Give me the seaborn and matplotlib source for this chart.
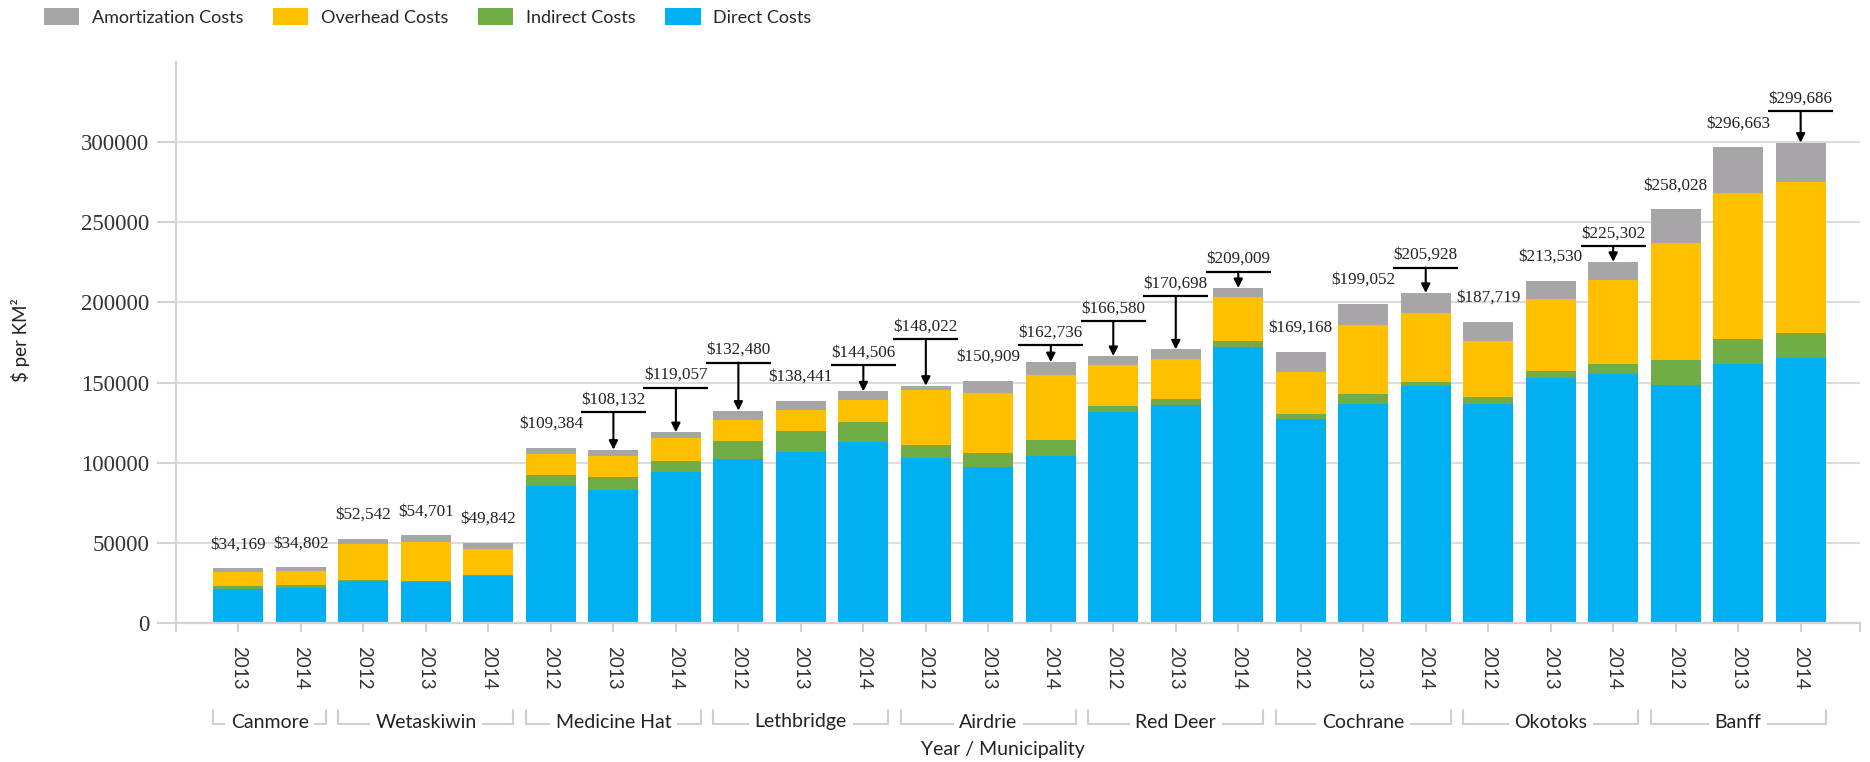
import matplotlib
matplotlib.use("Agg")
import matplotlib.pyplot as plt
import seaborn as sns
import pandas as pd
from matplotlib.patches import Patch

# ---------------- data ----------------
municipality = ["Canmore", "Canmore",
                "Wetaskiwin", "Wetaskiwin", "Wetaskiwin",
                "Medicine Hat", "Medicine Hat", "Medicine Hat",
                "Lethbridge", "Lethbridge", "Lethbridge",
                "Airdrie", "Airdrie", "Airdrie",
                "Red Deer", "Red Deer", "Red Deer",
                "Cochrane", "Cochrane", "Cochrane",
                "Okotoks", "Okotoks", "Okotoks",
                "Banff", "Banff", "Banff"]
year = ["2013", "2014"] + ["2012", "2013", "2014"] * 8

direct = [21300, 21700, 26500, 25800, 29500, 85200, 83100, 94000, 102300, 106700,
          112700, 102900, 97300, 104400, 131400, 135800, 172100, 127500, 136500, 148000,
          136500, 153100, 155300, 148700, 161300, 165300]
indirect = [2000, 2000, 500, 500, 500, 7300, 7900, 7300, 11400, 13300,
            12900, 7900, 8700, 10000, 3800, 4200, 4100, 2900, 6600, 2200,
            4400, 4400, 6000, 15300, 16000, 15500]
overhead = [8400, 8600, 22300, 24500, 16000, 13100, 13400, 14100, 13200, 12700,
            13400, 34400, 37500, 40600, 26000, 25000, 27300, 26000, 43100, 43100,
            35300, 44900, 52800, 72800, 91200, 94100]
amortization = [2469, 2502, 3242, 3901, 3842, 3784, 3732, 3657, 5580, 5741,
                5506, 2822, 7409, 7736, 5380, 5698, 5509, 12768, 12852, 12628,
                11519, 11130, 11202, 21228, 28163, 24786]
total_label = [34169, 34802, 52542, 54701, 49842, 109384, 108132, 119057, 132480, 138441,
               144506, 148022, 150909, 162736, 166580, 170698, 209009, 169168, 199052, 205928,
               187719, 213530, 225302, 258028, 296663, 299686]

series_names = ["Amortization Costs", "Overhead Costs", "Indirect Costs", "Direct Costs"]
y_ticks = [0, 50000, 100000, 150000, 200000, 250000, 300000]

# annotation layout: 0 -> plain label, otherwise height of callout bar above the total
callout_gap = [0, 0, 0, 0, 0, 0, 23300, 27700, 30000, 0,
               16300, 28900, 0, 10600, 21700, 33200, 10200, 0, 0, 15800,
               0, 0, 9900, 0, 0, 19600]

colors = {"Direct Costs": "#00B0F0", "Indirect Costs": "#70AD47",
          "Overhead Costs": "#FFC000", "Amortization Costs": "#A7A5A7"}

# ---------------- frame ----------------
keys = [f"{m} {y}" for m, y in zip(municipality, year)]
df = pd.DataFrame({"key": keys, "direct": direct, "indirect": indirect,
                   "overhead": overhead, "amort": amortization})
df["c_direct"] = df["direct"]
df["c_indirect"] = df["c_direct"] + df["indirect"]
df["c_overhead"] = df["c_indirect"] + df["overhead"]
df["c_amort"] = df["c_overhead"] + df["amort"]

sns.set_style("white")
plt.rcParams["font.family"] = ["Lato", "DejaVu Sans"]

W, H = 1870, 762
fig = plt.figure(figsize=(W / 100, H / 100), dpi=100)
ax = fig.add_axes([176 / W, 1 - 623 / H, (1860 - 176) / W, (623 - 62) / H])

layers = [("c_amort", "Amortization Costs"), ("c_overhead", "Overhead Costs"),
          ("c_indirect", "Indirect Costs"), ("c_direct", "Direct Costs")]
for col, name in layers:
    sns.barplot(data=df, x="key", y=col, order=keys, color=colors[name],
                saturation=1, width=0.8, linewidth=0, errorbar=None, ax=ax, zorder=2)

ax.set_xlim(-1.0, 25.95)
ax.set_ylim(0, 350000)

# grid & spines
ax.set_axisbelow(True)
ax.yaxis.grid(True, color="#DCDCDC", lw=1.5, zorder=0)
ax.xaxis.grid(False)
for s in ["top", "right"]:
    ax.spines[s].set_visible(False)
for s in ["left", "bottom"]:
    ax.spines[s].set_color("#D3D3D3")
    ax.spines[s].set_linewidth(1.6)

# y ticks
ax.set_yticks(y_ticks)
ax.set_yticklabels([str(t) for t in y_ticks], fontfamily="Liberation Serif",
                   fontsize=16.5, color="#333333")
ax.tick_params(axis="y", length=13.5, width=1.5, color="#D3D3D3", pad=5.5, left=True)

# x ticks
ax.set_xticks(range(len(keys)))
ax.set_xticklabels(year, rotation=-90, fontsize=13.5, color="#333333",
                   ha="center", va="top")
ax.set_xticks([-1.0, 25.95], minor=True)
ax.tick_params(axis="x", which="both", length=6.5, width=1.5, color="#D3D3D3",
               pad=10, bottom=True)
ax.set_xlabel("")
ax.set_ylabel("")

# group brackets
xt = ax.get_xaxis_transform()
groups = []
for i, m in enumerate(municipality):
    if groups and groups[-1][0] == m:
        groups[-1][2] = i
    else:
        groups.append([m, i, i])
y_line = -(724 - 623) / 561
y_top = -(710 - 623) / 561
y_text = -(722 - 623) / 561
bc = "#CFCFCF"
for name, i0, i1 in groups:
    x0, x1 = i0 - 0.4, i1 + 0.4
    ax.plot([x0, x0, x1, x1], [y_top, y_line, y_line, y_top], color=bc, lw=1.5,
            transform=xt, clip_on=False, solid_joinstyle="miter")
    ax.text((i0 + i1) / 2, y_text, name, transform=xt, ha="center", va="center",
            fontsize=14, color="#222222",
            bbox=dict(facecolor="white", edgecolor="none", pad=4))

# value labels
for i, (tot, gap) in enumerate(zip(total_label, callout_gap)):
    lab = f"${tot:,}"
    if gap == 0:
        ax.text(i, tot + 15000, lab, ha="center", va="center",
                fontfamily="Liberation Serif", fontsize=12.3, color="#222222")
    else:
        ly = tot + gap
        ax.plot([i - 0.52, i + 0.52], [ly, ly], color="black", lw=1.6, zorder=4,
                solid_capstyle="butt")
        ax.annotate("", xy=(i, tot), xytext=(i, ly),
                    arrowprops=dict(arrowstyle="-|>", color="black", lw=1.5,
                                    mutation_scale=13, shrinkA=0, shrinkB=0),
                    zorder=4)
        ax.text(i, ly + 8000, lab, ha="center", va="center",
                fontfamily="Liberation Serif", fontsize=12.3, color="#222222")

# axis titles
fig.text(1003 / W, 1 - 749 / H, "Year / Municipality", ha="center", va="center",
         fontsize=14, color="#222222")
fig.text(21 / W, 1 - 340 / H, "$ per KM²", ha="center", va="center", rotation=90,
         fontsize=13.5, color="#222222")

# legend
handles = [Patch(facecolor=colors[n], edgecolor="none", label=n) for n in series_names]
fig.legend(handles=handles, loc="center left", bbox_to_anchor=(44 / W, 1 - 17 / H),
           ncol=4, frameon=False, fontsize=13, handlelength=1.95, handleheight=1.05,
           handletextpad=0.7, columnspacing=1.65, borderpad=0, borderaxespad=0)

fig.savefig("out.png", dpi=100)
